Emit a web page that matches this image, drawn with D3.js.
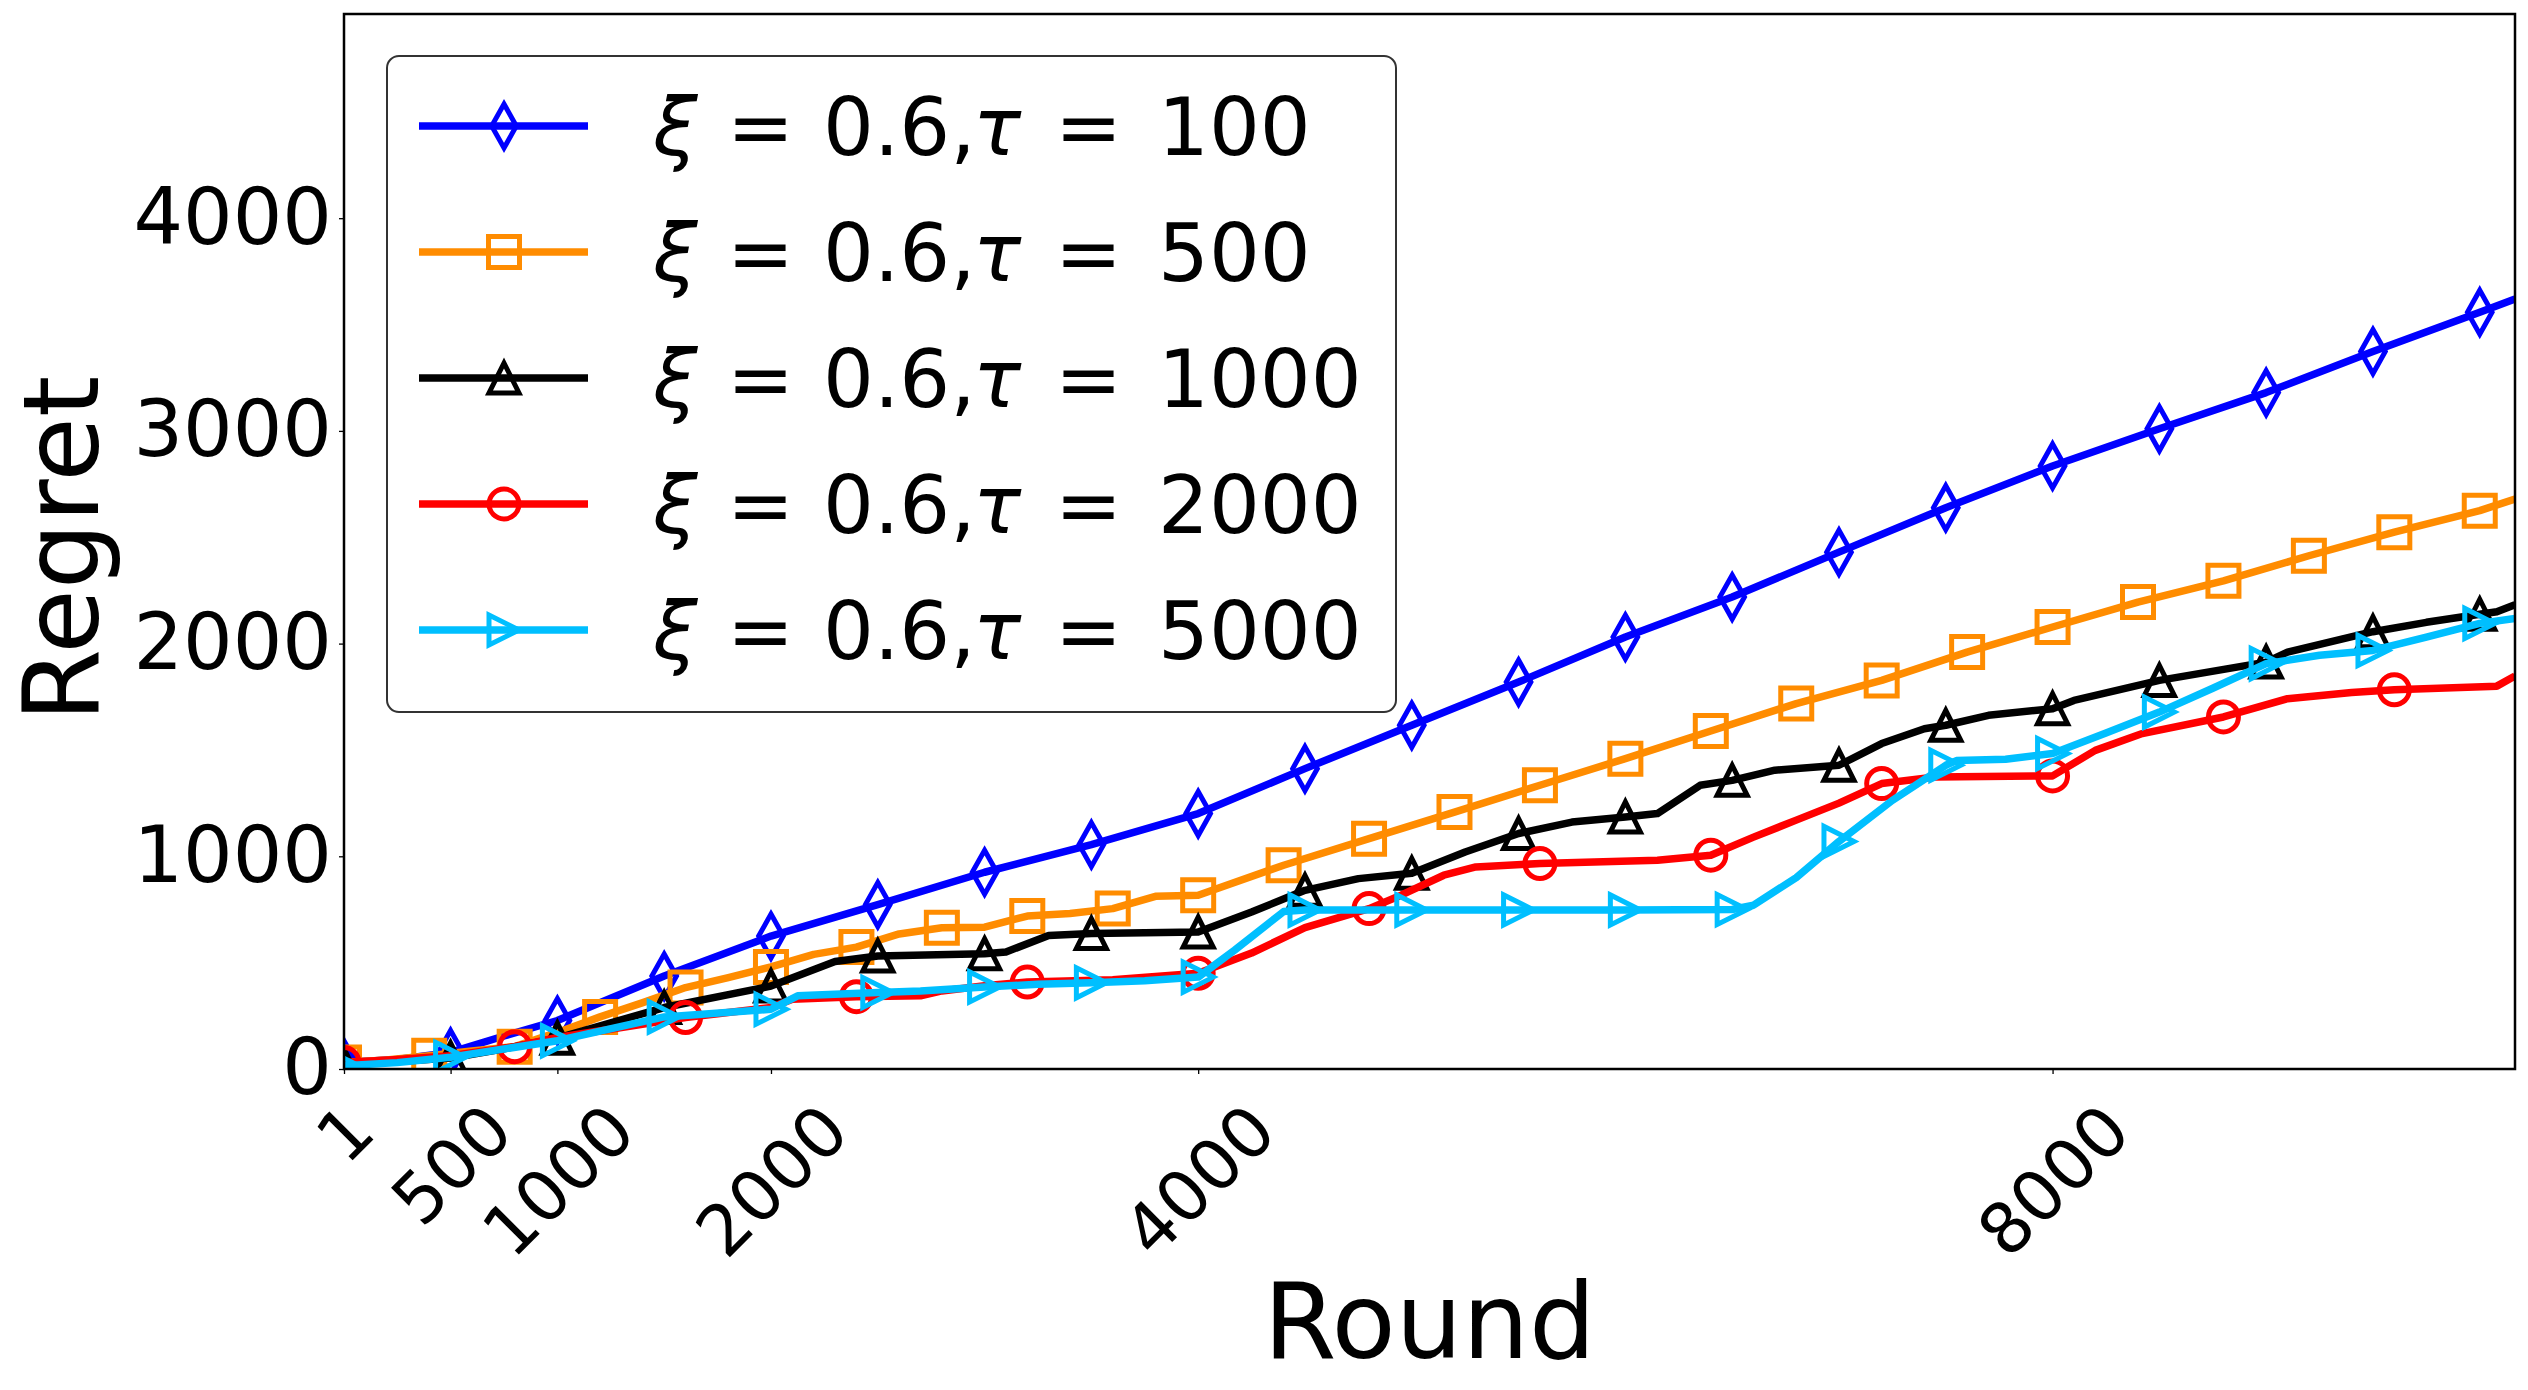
<!DOCTYPE html>
<html>
<head>
<meta charset="utf-8">
<script src="https://cdn.jsdelivr.net/npm/d3@7"></script>
<style>
body { margin: 0; background: #fff; }
text { font-family: "DejaVu Sans", sans-serif; fill: #000; }
</style>
</head>
<body>
<script>
const svgWidth = 2528
const svgHeight = 1390

const margin = { top: 14, right: 13, bottom: 321, left: 344 }
const chartWidth = svgWidth - margin.left - margin.right
const chartHeight = svgHeight - margin.top - margin.bottom

// axis ranges and ticks
const xMax = 10165
const yMax = 4960
const xTicks = [1, 500, 1000, 2000, 4000, 8000]
const yTicks = [0, 1000, 2000, 3000, 4000]

// legend values
const xiValue = 0.6
const tauValues = [100, 500, 1000, 2000, 5000]

// series
const roundsBlue = [1, 250, 500, 750, 1000, 1500, 2000, 2500, 3000, 3500, 4000, 4500, 5000, 5500, 6000, 6500, 7000, 7500, 8000, 8500, 9000, 9500, 10000, 10165]
const regretBlue = [30, 45, 78, 155, 228, 437, 625, 773, 925, 1055, 1201, 1412, 1616, 1819, 2031, 2219, 2430, 2639, 2835, 3010, 3180, 3373, 3558, 3620]

const roundsOrange = [1, 200, 400, 600, 800, 1000, 1200, 1400, 1600, 1800, 2000, 2200, 2400, 2600, 2800, 3000, 3200, 3400, 3600, 3800, 4000, 4400, 4800, 5200, 5600, 6000, 6400, 6800, 7200, 7600, 8000, 8400, 8800, 9200, 9600, 10000, 10165]
const regretOrange = [30, 42, 62, 85, 105, 172, 245, 312, 383, 430, 480, 539, 573, 635, 664, 667, 719, 731, 754, 812, 817, 958, 1083, 1208, 1334, 1459, 1589, 1718, 1827, 1960, 2078, 2195, 2295, 2413, 2524, 2625, 2680]

const roundsBlack = [1, 250, 500, 750, 1000, 1500, 2000, 2300, 2500, 3000, 3100, 3300, 3500, 4000, 4250, 4500, 4750, 5000, 5250, 5500, 5750, 6000, 6150, 6350, 6500, 6700, 7000, 7200, 7400, 7500, 7700, 8000, 8100, 8500, 9000, 9100, 9500, 9750, 10000, 10080, 10165]
const regretBlack = [25, 35, 52, 95, 145, 289, 390, 505, 531, 542, 550, 628, 637, 644, 738, 840, 895, 920, 1020, 1107, 1161, 1185, 1201, 1334, 1357, 1405, 1428, 1530, 1600, 1616, 1663, 1694, 1733, 1827, 1913, 1960, 2056, 2100, 2138, 2150, 2183]

const roundsRed = [1, 250, 500, 800, 1000, 1600, 2000, 2100, 2400, 2700, 2800, 3000, 3200, 3600, 4000, 4250, 4500, 4800, 4950, 5150, 5300, 5600, 6150, 6400, 6600, 6800, 7000, 7200, 7450, 8000, 8200, 8420, 8800, 9100, 9400, 9600, 10080, 10165]
const regretRed = [30, 45, 62, 105, 148, 242, 289, 328, 340, 344, 367, 391, 409, 420, 450, 545, 665, 754, 817, 911, 950, 966, 981, 1005, 1090, 1170, 1250, 1342, 1373, 1378, 1498, 1577, 1655, 1741, 1770, 1783, 1800, 1848]

const roundsCyan = [1, 250, 500, 1000, 1500, 2000, 2125, 2500, 2700, 3000, 3250, 3500, 3750, 4000, 4170, 4400, 4500, 5000, 5500, 6000, 6500, 6600, 6800, 7000, 7250, 7500, 7550, 7780, 8000, 8250, 8500, 8750, 9000, 9250, 9500, 9750, 10000, 10165]
const regretCyan = [15, 30, 55, 133, 245, 281, 344, 360, 367, 386, 398, 405, 415, 432, 558, 740, 748, 748, 748, 748, 750, 770, 900, 1070, 1263, 1428, 1450, 1456, 1483, 1580, 1678, 1790, 1906, 1945, 1968, 2030, 2095, 2118]

const lineWidth = 7.5
const markerStroke = 5

const markerPath = {
    thinDiamond: s => `M0,${-s / 2}L${s * 0.28},0L0,${s / 2}L${-s * 0.28},0Z`,
    square: s => `M${-s / 2},${-s / 2}h${s}v${s}h${-s}Z`,
    triangleUp: s => `M0,${-s / 2}L${s / 2},${s / 2}L${-s / 2},${s / 2}Z`,
    circle: s => `M${s / 2},0A${s / 2},${s / 2} 0 1,1 ${-s / 2},0A${s / 2},${s / 2} 0 1,1 ${s / 2},0Z`,
    triangleRight: s => `M${s / 2},0L${-s / 2},${s / 2}L${-s / 2},${-s / 2}Z`
}

const series = [
    { rounds: roundsBlue, regret: regretBlue, color: "#0000ff", marker: "thinDiamond", size: 44, every: 500 },
    { rounds: roundsOrange, regret: regretOrange, color: "#ff8c00", marker: "square", size: 31, every: 400 },
    { rounds: roundsBlack, regret: regretBlack, color: "#000000", marker: "triangleUp", size: 30, every: 500 },
    { rounds: roundsRed, regret: regretRed, color: "#ff0000", marker: "circle", size: 30, every: 800 },
    { rounds: roundsCyan, regret: regretCyan, color: "#00bfff", marker: "triangleRight", size: 30, every: 500 }
]

const svg = d3.select("body").append("svg")
    .attr("width", svgWidth)
    .attr("height", svgHeight)

svg.append("defs").append("clipPath")
    .attr("id", "plotClip")
    .append("rect")
    .attr("width", chartWidth)
    .attr("height", chartHeight)

const chartG = svg.append("g")
    .attr("transform", `translate(${margin.left}, ${margin.top})`)

const x = d3.scaleLinear()
    .domain([1, xMax])
    .range([0, chartWidth])

const y = d3.scaleLinear()
    .domain([0, yMax])
    .range([chartHeight, 0])

// x axis with 45 degree labels
const xFont = 70
const xAxisG = chartG.append("g")
    .attr("transform", `translate(0, ${chartHeight})`)
    .call(d3.axisBottom(x).tickValues(xTicks).tickFormat(d3.format("d")).tickSize(5).tickSizeOuter(0))
xAxisG.select(".domain").remove()
xAxisG.selectAll(".tick line").attr("stroke", "#000").attr("stroke-width", 1.3)
xAxisG.selectAll(".tick text")
    .attr("font-size", xFont)
    .attr("font-family", "DejaVu Sans")
    .attr("text-anchor", "middle")
    .attr("y", null)
    .attr("dy", "0.36em")
    .attr("transform", function () {
        const w = this.getComputedTextLength()
        const half = (w + 0.73 * xFont) / (2 * Math.SQRT2)
        return `translate(0, ${30 + half}) rotate(-45)`
    })

// y axis
const yAxisG = chartG.append("g")
    .call(d3.axisLeft(y).tickValues(yTicks).tickFormat(d3.format("d")).tickSize(5).tickSizeOuter(0).tickPadding(7))
yAxisG.select(".domain").remove()
yAxisG.selectAll(".tick line").attr("stroke", "#000").attr("stroke-width", 1.3)
yAxisG.selectAll(".tick text")
    .attr("font-size", 78)
    .attr("font-family", "DejaVu Sans")

// lines and markers
const plotG = chartG.append("g").attr("clip-path", "url(#plotClip)")

series.forEach(s => {
    const points = s.rounds.map((r, i) => ({ round: r, regret: s.regret[i] }))
    const line = d3.line()
        .x(d => x(d.round))
        .y(d => y(d.regret))

    plotG.append("path")
        .attr("d", line(points))
        .attr("fill", "none")
        .attr("stroke", s.color)
        .attr("stroke-width", lineWidth)
        .attr("stroke-linejoin", "round")

    plotG.selectAll(null)
        .data(points.filter(d => d.round === 1 || d.round % s.every === 0))
        .join("path")
        .attr("transform", d => `translate(${x(d.round)}, ${y(d.regret)})`)
        .attr("d", markerPath[s.marker](s.size))
        .attr("fill", "none")
        .attr("stroke", s.color)
        .attr("stroke-width", markerStroke)
        .attr("stroke-linejoin", "miter")
})

// frame
chartG.append("rect")
    .attr("width", chartWidth)
    .attr("height", chartHeight)
    .attr("fill", "none")
    .attr("stroke", "#000")
    .attr("stroke-width", 2.5)

// axis titles
svg.append("text")
    .attr("x", margin.left + chartWidth / 2)
    .attr("y", 1358)
    .attr("text-anchor", "middle")
    .attr("font-size", 105)
    .text("Round")

svg.append("text")
    .attr("transform", `translate(98, 549) rotate(-90)`)
    .attr("text-anchor", "middle")
    .attr("font-size", 105)
    .text("Regret")

// legend
const legendG = svg.append("g").attr("transform", "translate(387, 56)")

legendG.append("rect")
    .attr("width", 1009)
    .attr("height", 656)
    .attr("rx", 12)
    .attr("fill", "#fff")
    .attr("stroke", "#333")
    .attr("stroke-width", 2)

const legendFont = 80
const entryY = i => 70 + i * 126
const pieceX = [0, 74, 170, 320, 402, 505]

series.forEach((s, i) => {
    const row = legendG.append("g").attr("transform", `translate(0, ${entryY(i)})`)
    row.append("line")
        .attr("x1", 32).attr("x2", 201)
        .attr("stroke", s.color)
        .attr("stroke-width", lineWidth)
    row.append("path")
        .attr("transform", "translate(117, 0)")
        .attr("d", markerPath[s.marker](s.size))
        .attr("fill", "none")
        .attr("stroke", s.color)
        .attr("stroke-width", markerStroke)
    const label = row.append("text")
        .attr("x", 266)
        .attr("y", 0.365 * legendFont)
        .attr("font-size", legendFont)
    const pieces = [
        { t: "ξ", italic: true },
        { t: "=" },
        { t: `${xiValue},` },
        { t: "τ", italic: true },
        { t: "=" },
        { t: `${tauValues[i]}` }
    ]
    pieces.forEach((p, k) => {
        label.append("tspan")
            .attr("x", 266 + pieceX[k])
            .attr("font-style", p.italic ? "italic" : null)
            .text(p.t)
    })
})
</script>
</body>
</html>
